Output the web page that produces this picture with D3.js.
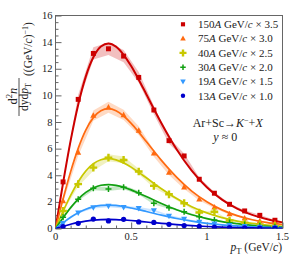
<!DOCTYPE html>
<html><head><meta charset="utf-8">
<script src="https://cdn.jsdelivr.net/npm/d3@7/dist/d3.min.js"></script>
<style>body{margin:0;background:#fff}svg{display:block}text{font-family:"Liberation Serif","Times New Roman",serif;fill:#222}</style>
</head><body>
<script>
// ---- data ----
const ptBins = [0.05,0.15,0.25,0.35,0.45,0.55,0.65,0.75,0.85,0.95,1.05,1.15,1.25,1.35,1.45];
const seriesNames = ["150","75","40","30","19","13"];
const scaleLabels = ["3.5","3.0","2.5","2.0","1.5","1.0"];
const v150 = [3.5,9.7,13.15,13.5,12.95,11.35,8.9,6.6,5.45,3.7,2.65,1.82,1.32,0.99,0.62];
const v75  = [2.07,5.7,8.48,9.11,8.53,7.35,5.65,4.2,3.1,2.2,1.59,1.09,0.77,0.56,0.39];
const v40  = [1.32,3.33,4.57,5.32,5.15,4.28,3.2,2.57,1.9,1.2,1.26,0.6,0.44,0.31,0.19];
const v30  = [0.84,2.19,3.02,2.97,3.1,2.69,1.89,1.56,1.26,0.89,0.64,0.44,0.29,0.2,0.13];
const v19  = [0.39,1.19,1.59,1.69,1.6,1.52,1.35,0.95,0.72,0.5,0.36,0.25,0.17,0.11,0.07];
const v13  = [0.14,0.39,0.71,0.57,0.69,0.49,0.46,0.31,0.22,0.15,0.1,0.07,0.05,0.03,0.02];
const sysFrac = [0.035,0.045,0.05,0.05,0.06,0.06];
const fitX = [0,0.05,0.1,0.15,0.2,0.25,0.3,0.35,0.4,0.45,0.5,0.55,0.6,0.7,0.8,0.9,1.0,1.1,1.2,1.3,1.4,1.5];
const fit150 = [0,3.42,6.6,9.3,11.41,12.86,13.67,13.9,13.66,13.05,12.2,11.18,10.09,7.91,5.95,4.35,3.1,2.17,1.5,1.02,0.69,0.46];
const fit75  = [0,2.22,4.27,6.02,7.39,8.33,8.85,9.0,8.84,8.45,7.9,7.24,6.53,5.12,3.86,2.81,2.01,1.4,0.97,0.66,0.44,0.3];
const fit40  = [0,1.29,2.49,3.51,4.31,4.86,5.16,5.25,5.16,4.93,4.61,4.22,3.81,2.99,2.25,1.64,1.17,0.82,0.56,0.38,0.26,0.17];
const fit30  = [0,0.81,1.57,2.21,2.71,3.05,3.25,3.3,3.24,3.1,2.9,2.65,2.4,1.88,1.41,1.03,0.74,0.51,0.36,0.24,0.16,0.11];
const fit19  = [0,0.43,0.84,1.18,1.45,1.63,1.73,1.76,1.73,1.65,1.54,1.42,1.28,1.0,0.75,0.55,0.39,0.27,0.19,0.13,0.09,0.06];
const fit13  = [0,0.17,0.32,0.46,0.56,0.63,0.67,0.68,0.67,0.64,0.6,0.55,0.49,0.39,0.29,0.21,0.15,0.11,0.07,0.05,0.03,0.02];
const yTicks = [0,2,4,6,8,10,12,14,16];
const xTicks = [0,0.5,1,1.5];

const values = [v150,v75,v40,v30,v19,v13];
const fits = [fit150,fit75,fit40,fit30,fit19,fit13];
const colors = ["#cc0000","#ff6a10","#c8c800","#11a011","#3399ff","#0000cc"];
const markers = ["square","triUp","crossThick","cross","triDown","circle"];

const W=293,H=266;
const svg=d3.select("body").append("svg").attr("width",W).attr("height",H);
const x=d3.scaleLinear().domain([0,1.5]).range([55.5,282.5]);
const y=d3.scaleLinear().domain([0,16]).range([228.5,15.5]);

// frame
svg.append("rect").attr("x",x(0)).attr("y",y(16)).attr("width",x(1.5)-x(0)).attr("height",y(0)-y(16))
  .attr("fill","none").attr("stroke","#666").attr("stroke-width",1);

// axes (ticks inward)
const gy=svg.append("g").attr("transform",`translate(${x(0)},0)`);
gy.call(d3.axisRight(y).tickValues(d3.range(0,16.01,0.5)).tickSize(3).tickFormat(""));
gy.call(g=>g.selectAll(".tick line").filter(d=>Math.abs(d%2)<1e-6).attr("x2",6));
gy.select(".domain").remove();
gy.selectAll(".tick line").attr("stroke","#666");
svg.append("g").selectAll("text").data(yTicks).join("text")
  .attr("x",x(0)-3).attr("y",d=>y(d)+3.5).attr("text-anchor","end").attr("font-size",10.5).text(d=>d);

const gx=svg.append("g").attr("transform",`translate(0,${y(0)})`);
gx.call(d3.axisTop(x).tickValues(d3.range(0,1.501,0.1)).tickSize(3).tickFormat(""));
gx.call(g=>g.selectAll(".tick line").filter(d=>Math.abs((d*2)-Math.round(d*2))<1e-6).attr("y2",-6));
gx.select(".domain").remove();
gx.selectAll(".tick line").attr("stroke","#666");
svg.append("g").selectAll("text").data(xTicks).join("text")
  .attr("x",d=>x(d)).attr("y",y(0)+11.5).attr("text-anchor","middle").attr("font-size",10.5).text(d=>d);

const plot=svg.append("g");
plot.append("clipPath").attr("id","clip").append("rect").attr("x",x(0)).attr("y",y(16)).attr("width",x(1.5)-x(0)).attr("height",y(0)-y(16));
const inner=plot.append("g").attr("clip-path","url(#clip)");

// bands
values.forEach((vals,i)=>{
  const area=d3.area().x((d,j)=>x(ptBins[j])).y0(d=>y(d*(1-sysFrac[i]))).y1(d=>y(d*(1+sysFrac[i])));
  inner.append("path").attr("d",area(vals)).attr("fill",colors[i]).attr("opacity",0.25);
});
// fits
fits.forEach((f,i)=>{
  const line=d3.line().x((d,j)=>x(fitX[j])).y(d=>y(d)).curve(d3.curveMonotoneX);
  inner.append("path").attr("d",line(f)).attr("fill","none").attr("stroke",colors[i]).attr("stroke-width",i===0?2:1.7);
});

function drawMarker(g,type,cx,cy,col,s){
  if(type==="square") g.append("rect").attr("x",cx-s*0.45).attr("y",cy-s*0.45).attr("width",s*0.9).attr("height",s*0.9).attr("fill",col);
  else if(type==="circle") g.append("circle").attr("cx",cx).attr("cy",cy).attr("r",s*0.48).attr("fill",col);
  else if(type==="triUp") g.append("path").attr("d",`M${cx},${cy-s*0.6}L${cx+s*0.55},${cy+s*0.4}L${cx-s*0.55},${cy+s*0.4}Z`).attr("fill",col);
  else if(type==="triDown") g.append("path").attr("d",`M${cx},${cy+s*0.6}L${cx+s*0.55},${cy-s*0.4}L${cx-s*0.55},${cy-s*0.4}Z`).attr("fill",col);
  else if(type==="crossThick") g.append("path").attr("d",`M${cx-s*0.7},${cy}H${cx+s*0.7}M${cx},${cy-s*0.7}V${cy+s*0.7}`).attr("stroke",col).attr("stroke-width",2.4);
  else if(type==="cross") g.append("path").attr("d",`M${cx-s*0.55},${cy}H${cx+s*0.55}M${cx},${cy-s*0.55}V${cy+s*0.55}`).attr("stroke",col).attr("stroke-width",1.5);
}
values.forEach((vals,i)=>{
  vals.forEach((v,j)=>drawMarker(inner,markers[i],x(ptBins[j]),y(v),colors[i],5.5));
});

// legend
const lg=svg.append("g");
seriesNames.forEach((n,i)=>{
  const cy=24.3+i*14.3;
  drawMarker(lg,markers[i],183,cy,colors[i],i===0||i===5?4.6:5);
  const t=lg.append("text").attr("x",198).attr("y",cy+3.8).attr("font-size",11);
  t.append("tspan").text(n);
  t.append("tspan").attr("font-style","italic").text("A");
  t.append("tspan").text(" GeV/");
  t.append("tspan").attr("font-style","italic").text("c");
  t.append("tspan").text(" \u00d7 "+scaleLabels[i]);
});

// reaction label
const r=svg.append("text").attr("x",227.7).attr("y",127).attr("text-anchor","middle").attr("font-size",12);
r.append("tspan").text("Ar+Sc\u2192");
r.append("tspan").attr("font-style","italic").text("K");
r.append("tspan").attr("dy",-4.5).attr("font-size",8).text("\u2212");
r.append("tspan").attr("dy",4.5).text("+");
r.append("tspan").attr("font-style","italic").text("X");
const r2=svg.append("text").attr("x",225.3).attr("y",140.5).attr("text-anchor","middle").attr("font-size",12);
r2.append("tspan").attr("font-style","italic").text("y");
r2.append("tspan").text(" \u2248 0");

// x title
const xt=svg.append("text").attr("x",282).attr("y",251).attr("text-anchor","end").attr("font-size",11.5);
xt.append("tspan").attr("font-style","italic").text("p");
xt.append("tspan").attr("dy",3).attr("font-size",8.5).text("T");
xt.append("tspan").attr("dy",-3).text(" (GeV/");
xt.append("tspan").attr("font-style","italic").text("c");
xt.append("tspan").text(")");

// y title (rotated)
const yt=svg.append("g").attr("transform","rotate(-90)");
const num=yt.append("text").attr("x",-96).attr("y",16.5).attr("text-anchor","middle").attr("font-size",12.5);
num.append("tspan").text("d");
num.append("tspan").attr("dy",-4.5).attr("font-size",8.5).text("2");
num.append("tspan").attr("dy",4.5).attr("font-style","italic").text("n");
yt.append("line").attr("x1",-116).attr("x2",-78).attr("y1",19).attr("y2",19).attr("stroke","#222").attr("stroke-width",0.8);
const den=yt.append("text").attr("x",-97).attr("y",27.5).attr("text-anchor","middle").attr("font-size",11.5);
den.append("tspan").text("dyd");
den.append("tspan").attr("font-style","italic").text("p");
den.append("tspan").attr("dy",3).attr("font-size",8).text("T");
const un=yt.append("text").attr("x",-76).attr("y",32).attr("text-anchor","start").attr("font-size",11.5);
un.append("tspan").text("((GeV/");
un.append("tspan").attr("font-style","italic").text("c");
un.append("tspan").text(")");
un.append("tspan").attr("dy",-4.5).attr("font-size",8).text("\u22121");
un.append("tspan").attr("dy",4.5).text(")");
</script>
</body></html>
